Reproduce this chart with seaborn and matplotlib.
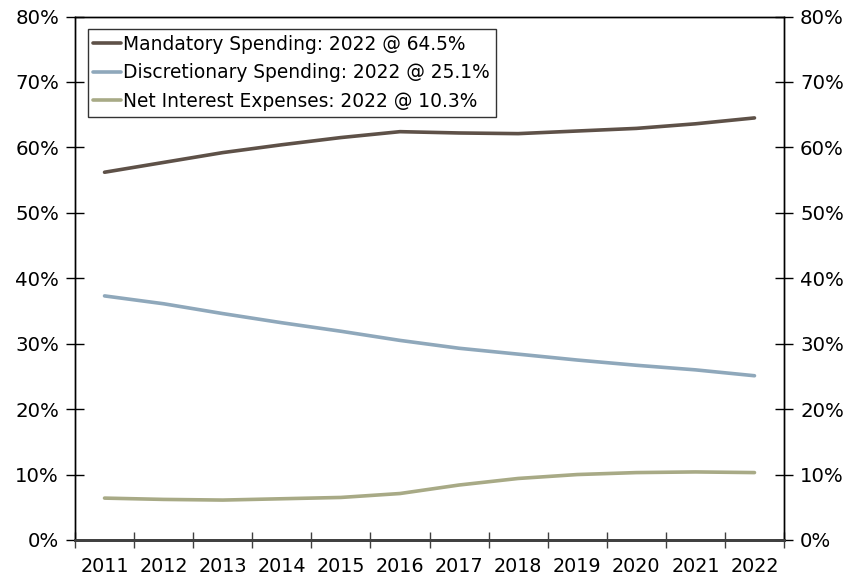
import matplotlib
matplotlib.use("Agg")
import matplotlib.pyplot as plt
import matplotlib.ticker as mticker
import seaborn as sns
import pandas as pd
import numpy as np

years = [2011, 2012, 2013, 2014, 2015, 2016, 2017, 2018, 2019, 2020, 2021, 2022]
mandatory = [56.2, 57.7, 59.2, 60.4, 61.5, 62.4, 62.2, 62.1, 62.5, 62.9, 63.6, 64.5]
discretionary = [37.3, 36.1, 34.6, 33.2, 31.9, 30.5, 29.3, 28.4, 27.5, 26.7, 26.0, 25.1]
net_interest = [6.4, 6.2, 6.1, 6.3, 6.5, 7.1, 8.4, 9.4, 10.0, 10.3, 10.4, 10.3]
series_names = ["Mandatory Spending: 2022 @ 64.5%",
                "Discretionary Spending: 2022 @ 25.1%",
                "Net Interest Expenses: 2022 @ 10.3%"]
colors = ["#5e5148", "#8fa8bb", "#a8aa86"]
y_ticks = [0, 10, 20, 30, 40, 50, 60, 70, 80]

df = pd.DataFrame({
    "year": years * 3,
    "value": mandatory + discretionary + net_interest,
    "series": [series_names[0]] * 12 + [series_names[1]] * 12 + [series_names[2]] * 12,
})

sns.set_theme(style="white")
plt.rcParams["font.family"] = ["DejaVu Sans"]

fig = plt.figure(figsize=(8.63, 5.75), dpi=100)
ax = fig.add_axes([0.0869, 0.0609, 0.8216, 0.9104])

sns.lineplot(data=df, x="year", y="value", hue="series", hue_order=series_names,
             palette=colors, linewidth=2.6, ax=ax, legend=True)

ax.set_xlim(years[0] - 0.5, years[-1] + 0.5)
ax.set_ylim(0, 80)
ax.set_xlabel("")
ax.set_ylabel("")

# x ticks between categories, labels centered
ax.xaxis.set_major_locator(mticker.FixedLocator([y - 0.5 for y in years] + [years[-1] + 0.5]))
ax.xaxis.set_major_formatter(mticker.NullFormatter())
ax.xaxis.set_minor_locator(mticker.FixedLocator(years))
ax.xaxis.set_minor_formatter(mticker.FixedFormatter([str(y) for y in years]))
ax.tick_params(axis="x", which="major", direction="inout", length=12, width=1, color="#404040", bottom=True)
ax.tick_params(axis="x", which="minor", length=0, labelsize=13.8, pad=12, labelcolor="black", bottom=True)

ax.set_yticks(y_ticks)
ax.yaxis.set_major_formatter(mticker.FuncFormatter(lambda v, p: f"{int(v)}%"))
ax.tick_params(axis="y", direction="inout", length=13, width=1, color="black", left=True,
               labelsize=14.2, pad=5, labelcolor="black")

ax2 = ax.twinx()
ax2.set_ylim(0, 80)
ax2.set_yticks(y_ticks)
ax2.yaxis.set_major_formatter(mticker.FuncFormatter(lambda v, p: f"{int(v)}%"))
ax2.tick_params(axis="y", direction="inout", length=13, width=1, color="black", right=True,
                labelsize=14.2, pad=5, labelcolor="black")
ax2.grid(False)
ax.grid(False)

for a in (ax, ax2):
    for s in ["left", "right", "top"]:
        a.spines[s].set_visible(True)
        a.spines[s].set_color("black")
        a.spines[s].set_linewidth(1.0)
    a.spines["bottom"].set_color("#404040")
    a.spines["bottom"].set_linewidth(2.0)

leg = ax.legend(loc="upper left", bbox_to_anchor=(0.018, 0.976), fontsize=13.4,
                frameon=True, fancybox=False, edgecolor="black", handlelength=1.5,
                handletextpad=0.12, borderpad=0.3, labelspacing=0.52, borderaxespad=0.0)
leg.get_frame().set_linewidth(1.0)
for line in leg.get_lines():
    line.set_linewidth(2.6)
for t in leg.get_texts():
    t.set_color("black")

fig.savefig("out.png", dpi=100, facecolor="white")
